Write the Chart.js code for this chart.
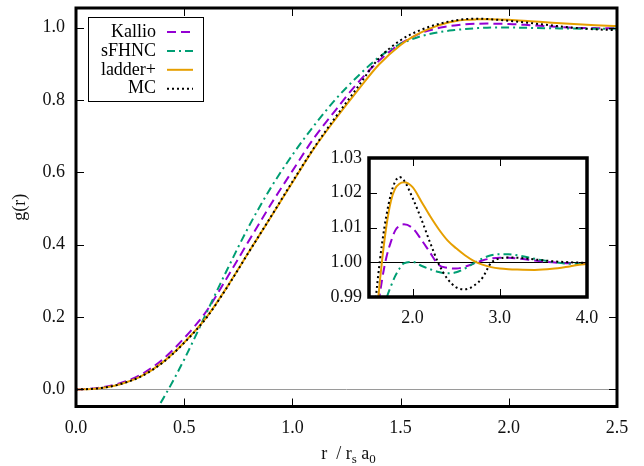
<!DOCTYPE html>
<html>
<head>
<meta charset="utf-8">
<script src="https://cdn.jsdelivr.net/npm/chart.js@4.4.1/dist/chart.umd.min.js"></script>
<style>
    html, body { margin: 0; padding: 0; background: #fff; }
    #wrap { position: relative; width: 644px; height: 466px; }
    #mainChart { position: absolute; left: 0; top: 0; }
    #insetChart { position: absolute; left: 300px; top: 140px; }
</style>
</head>
<body>
<div id="wrap">
    <canvas id="mainChart" width="644" height="466"></canvas>
    <canvas id="insetChart" width="310" height="200"></canvas>
</div>
<script>
/*
============================================================
Data
============================================================
*/

const radius = [
    0, 0.1, 0.2, 0.3, 0.4, 0.5, 0.6, 0.7, 0.8, 0.9,
    1.0, 1.1, 1.2, 1.3, 1.4, 1.5, 1.55, 1.6, 1.65, 1.7,
    1.75, 1.8, 1.85, 1.9, 2.0, 2.1, 2.2, 2.3, 2.4, 2.5,
    2.6, 2.7, 2.8, 2.9, 3.0, 3.1, 3.2, 3.4, 3.6, 3.8, 4.0
];

const kallio = [
    0, 0.004, 0.017, 0.041, 0.083, 0.142, 0.214, 0.311, 0.412, 0.511,
    0.604, 0.695, 0.772, 0.846, 0.908, 0.956, 0.972, 0.986, 0.995, 1.0015,
    1.0058, 1.0091, 1.0105, 1.0109, 1.0098, 1.0065, 1.0028, 0.9992, 0.9984, 0.9982,
    0.9987, 0.9996, 1.0005, 1.0011, 1.0013, 1.0013, 1.0011, 1.0005, 1.0000, 0.9997, 0.9997
];

const sfhnc = [
    null, null, null, -0.12, -0.028, 0.083, 0.208, 0.333, 0.452, 0.557,
    0.648, 0.729, 0.802, 0.864, 0.918, 0.955, 0.967, 0.977, 0.984, 0.9895,
    0.993, 0.996, 0.9982, 0.9997, 1.0001, 0.9990, 0.9980, 0.9972, 0.9968, 0.9971,
    0.9982, 0.9997, 1.0011, 1.0020, 1.0023, 1.0023, 1.0020, 1.0010, 1.0001, 0.9996, 0.9996
];

const ladderPlus = [
    0, 0.003, 0.014, 0.036, 0.075, 0.130, 0.197, 0.285, 0.381, 0.476,
    0.572, 0.666, 0.748, 0.825, 0.898, 0.952, 0.972, 0.988, 1.0005, 1.0105,
    1.0175, 1.0212, 1.0226, 1.0230, 1.0216, 1.0175, 1.0133, 1.0095, 1.0063, 1.0040,
    1.0020, 1.0004, 0.9993, 0.9986, 0.9982, 0.9980, 0.9979, 0.9978, 0.9981, 0.9988, 0.9996
];

const monteCarlo = [
    0, 0.003, 0.014, 0.036, 0.074, 0.129, 0.196, 0.284, 0.381, 0.477,
    0.574, 0.668, 0.753, 0.834, 0.915, 0.965, 0.982, 0.995, 1.0055, 1.0135,
    1.0195, 1.0232, 1.0245, 1.0236, 1.0185, 1.0124, 1.0057, 0.9995, 0.9952, 0.9928,
    0.9922, 0.9932, 0.9955, 0.9998, 1.0011, 1.0014, 1.0013, 1.0008, 1.0003, 1.0000, 0.9998
];

const seriesLabels = ["Kallio", "sFHNC", "ladder+", "MC"];

const mainXTicks = [0, 0.5, 1.0, 1.5, 2.0, 2.5];
const mainYTicks = [0, 0.2, 0.4, 0.6, 0.8, 1.0];
const insetXTicks = [2.0, 3.0, 4.0];
const insetYTicks = [0.99, 1.00, 1.01, 1.02, 1.03];

/*
============================================================
Styles
============================================================
*/

const FONT_FAMILY = '"Liberation Serif", "Times New Roman", serif';
const FONT_SIZE = 18;

const SERIES = [
    { label: seriesLabels[0], values: kallio, color: "#9400d3", dash: [9, 5] },
    { label: seriesLabels[1], values: sfhnc, color: "#009e73", dash: [8, 4, 2, 4] },
    { label: seriesLabels[2], values: ladderPlus, color: "#e69f00", dash: [] },
    { label: seriesLabels[3], values: monteCarlo, color: "#000000", dash: [2, 3] }
];

Chart.defaults.font.family = FONT_FAMILY;
Chart.defaults.font.size = FONT_SIZE;
Chart.defaults.color = "#111";

/*
============================================================
Helpers
============================================================
*/

function toPoints(values) {
    return radius.map((r, i) => ({ x: r, y: values[i] }));
}

function makeDatasets() {
    return SERIES.map((s, i) => ({
        label: s.label,
        data: toPoints(s.values),
        borderColor: s.color,
        borderDash: s.dash,
        borderWidth: 2,
        pointRadius: 0,
        fill: false,
        cubicInterpolationMode: "monotone",
        order: SERIES.length - i
    }));
}

function fixedTicks(list) {
    return (scale) => {
        scale.ticks = list.map((v) => ({ value: v }));
    };
}

function fixedSize(prop, size) {
    return (scale) => {
        scale[prop] = size;
        scale.paddingTop = 0;
        scale.paddingBottom = 0;
        scale.paddingLeft = 0;
        scale.paddingRight = 0;
    };
}

/*
============================================================
Plugins
============================================================
*/

// gnuplot-like frame with inward ticks on all four sides
const framePlugin = {
    id: "frame",
    afterDraw(chart, args, opts) {
        const { ctx, chartArea: a, scales } = chart;
        const len = opts.tickLength;
        ctx.save();
        ctx.strokeStyle = "#000";
        ctx.lineWidth = 1;
        ctx.setLineDash([]);
        ctx.beginPath();
        scales.x.ticks.forEach((t) => {
            const px = Math.round(scales.x.getPixelForValue(t.value)) + 0.5;
            ctx.moveTo(px, a.bottom);
            ctx.lineTo(px, a.bottom - len);
            ctx.moveTo(px, a.top);
            ctx.lineTo(px, a.top + len);
        });
        scales.y.ticks.forEach((t) => {
            const py = Math.round(scales.y.getPixelForValue(t.value)) + 0.5;
            ctx.moveTo(a.left, py);
            ctx.lineTo(a.left + len, py);
            ctx.moveTo(a.right, py);
            ctx.lineTo(a.right - len, py);
        });
        ctx.stroke();
        ctx.lineWidth = opts.frameWidth;
        ctx.strokeRect(a.left, a.top, a.right - a.left, a.bottom - a.top);
        ctx.restore();
    }
};

// boxed legend, text on the left and line sample on the right
const legendPlugin = {
    id: "boxLegend",
    afterDraw(chart) {
        const { ctx } = chart;
        ctx.save();
        ctx.strokeStyle = "#000";
        ctx.lineWidth = 1;
        ctx.setLineDash([]);
        ctx.strokeRect(88.5, 17.5, 115, 84);
        ctx.font = `${FONT_SIZE}px ${FONT_FAMILY}`;
        ctx.textAlign = "right";
        ctx.textBaseline = "middle";
        chart.data.datasets.forEach((ds, i) => {
            const y = 32 + i * 18.9;
            ctx.fillStyle = "#000";
            ctx.fillText(ds.label, 156, y);
            ctx.beginPath();
            ctx.setLineDash(ds.borderDash);
            ctx.strokeStyle = ds.borderColor;
            ctx.lineWidth = ds.borderWidth;
            ctx.moveTo(167, y);
            ctx.lineTo(193, y);
            ctx.stroke();
        });
        ctx.restore();
    }
};

// x axis title with subscripts: r / r_s a_0
const xTitlePlugin = {
    id: "xTitle",
    afterDraw(chart) {
        const { ctx, chartArea: a } = chart;
        const big = `${FONT_SIZE}px ${FONT_FAMILY}`;
        const small = `13px ${FONT_FAMILY}`;
        const parts = [
            { text: "r  / r", font: big, dy: 0 },
            { text: "s", font: small, dy: 4 },
            { text: " a", font: big, dy: 0 },
            { text: "0", font: small, dy: 4 }
        ];
        ctx.save();
        ctx.fillStyle = "#111";
        ctx.textAlign = "left";
        ctx.textBaseline = "alphabetic";
        let total = 0;
        parts.forEach((p) => {
            ctx.font = p.font;
            p.w = ctx.measureText(p.text).width;
            total += p.w;
        });
        let x = (a.left + a.right) / 2 + 2 - total / 2;
        const y = 459;
        parts.forEach((p) => {
            ctx.font = p.font;
            ctx.fillText(p.text, x, y + p.dy);
            x += p.w;
        });
        ctx.restore();
    }
};

/*
============================================================
Main Chart
============================================================
*/

new Chart(document.getElementById("mainChart"), {
    type: "line",
    data: { datasets: makeDatasets() },
    options: {
        responsive: false,
        animation: false,
        devicePixelRatio: 1,
        layout: { padding: { top: 8, right: 27, left: 0, bottom: 0 } },
        plugins: {
            legend: { display: false },
            tooltip: { enabled: false },
            frame: { tickLength: 8, frameWidth: 3 }
        },
        scales: {
            x: {
                type: "linear",
                min: 0,
                max: 2.5,
                afterBuildTicks: fixedTicks(mainXTicks),
                afterFit: fixedSize("height", 59.5),
                border: { display: false },
                grid: { display: false, drawTicks: false },
                ticks: {
                    padding: 11,
                    maxRotation: 0,
                    callback: (v) => Number(v).toFixed(1)
                }
            },
            y: {
                type: "linear",
                min: -0.047,
                max: 1.054,
                afterBuildTicks: fixedTicks(mainYTicks),
                afterFit: fixedSize("width", 76),
                border: { display: false },
                grid: {
                    drawTicks: false,
                    color: (c) => (c.tick && c.tick.value === 0 ? "#9a9a9a" : "rgba(0,0,0,0)"),
                    lineWidth: 1
                },
                ticks: {
                    padding: 11,
                    callback: (v) => Number(v).toFixed(1)
                },
                title: {
                    display: true,
                    text: "g(r)",
                    padding: { top: 9, bottom: 0 }
                }
            }
        }
    },
    plugins: [framePlugin, legendPlugin, xTitlePlugin]
});

/*
============================================================
Inset Chart
============================================================
*/

new Chart(document.getElementById("insetChart"), {
    type: "line",
    data: { datasets: makeDatasets() },
    options: {
        responsive: false,
        animation: false,
        devicePixelRatio: 1,
        layout: { padding: { top: 18, right: 23, left: 0, bottom: 0 } },
        plugins: {
            legend: { display: false },
            tooltip: { enabled: false },
            frame: { tickLength: 8, frameWidth: 3.5 }
        },
        scales: {
            x: {
                type: "linear",
                min: 1.5,
                max: 4.0,
                afterBuildTicks: fixedTicks(insetXTicks),
                afterFit: fixedSize("height", 43),
                border: { display: false },
                grid: { display: false, drawTicks: false },
                ticks: {
                    padding: 10,
                    maxRotation: 0,
                    callback: (v) => Number(v).toFixed(1)
                }
            },
            y: {
                type: "linear",
                min: 0.99,
                max: 1.03,
                afterBuildTicks: fixedTicks(insetYTicks),
                afterFit: fixedSize("width", 69),
                border: { display: false },
                grid: {
                    drawTicks: false,
                    color: (c) => (c.tick && Math.abs(c.tick.value - 1) < 1e-9 ? "#000" : "rgba(0,0,0,0)"),
                    lineWidth: 1
                },
                ticks: {
                    padding: 7,
                    callback: (v) => Number(v).toFixed(2)
                }
            }
        }
    },
    plugins: [framePlugin]
});
</script>
</body>
</html>
